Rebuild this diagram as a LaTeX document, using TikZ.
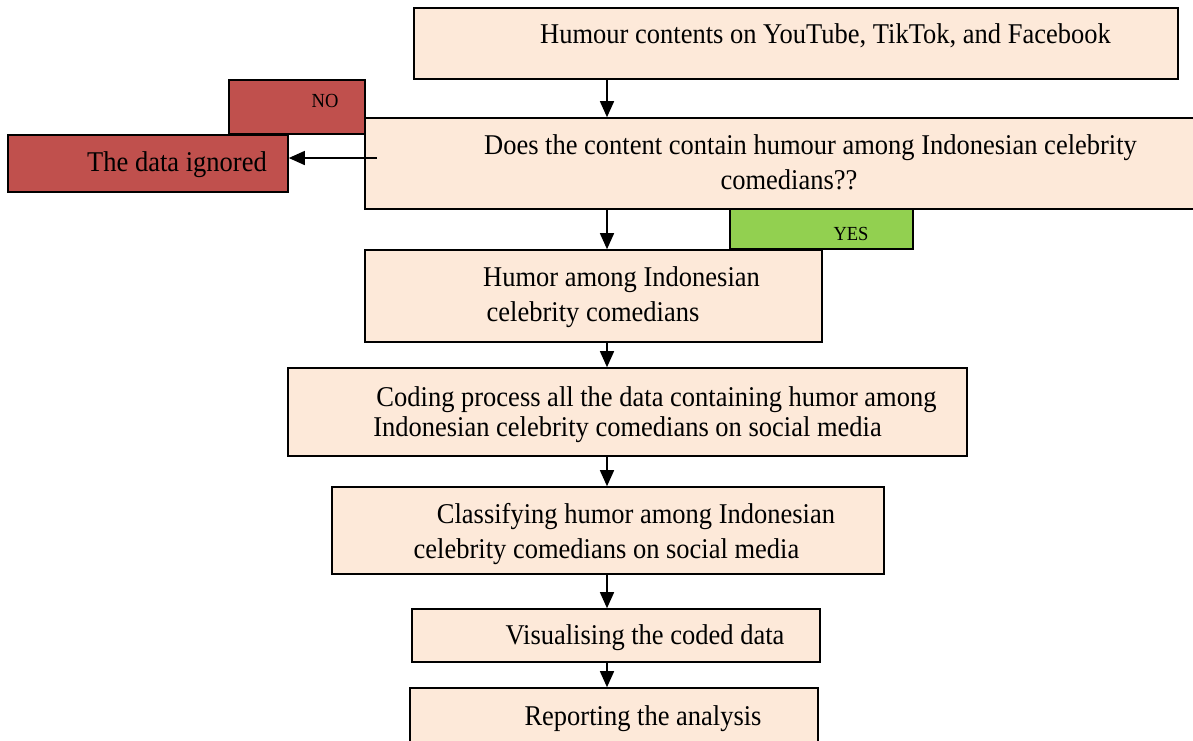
\documentclass[tikz,border=0pt]{standalone}
\usepackage{fontspec}
\setmainfont{Liberation Serif}
\usetikzlibrary{arrows.meta}
\definecolor{peach}{HTML}{FDE9D9}
\definecolor{redbox}{HTML}{C0504D}
\definecolor{greenbox}{HTML}{92D050}
\newcommand{\tallt}[1]{\scalebox{1}[1.08]{#1}}
\begin{document}
\begin{tikzpicture}[x=1pt,y=-1pt,
  box/.style={draw=black,line width=1.6pt,rectangle,inner sep=0pt},
  peachbox/.style={box,fill=peach},
  redb/.style={box,fill=redbox},
  greenb/.style={box,fill=greenbox},
  txt/.style={anchor=base,inner sep=0pt,font=\fontsize{26.5}{32}\selectfont},
  small/.style={anchor=base,inner sep=0pt,font=\fontsize{18.5}{22}\selectfont},
  arr/.style={line width=1.5pt,-{Triangle[length=16pt,width=14pt]}}]
\useasboundingbox (0,0) rectangle (1193,740);
% boxes
\node[peachbox,minimum width=764pt,minimum height=71pt] (top) at (796,43.5) {};
\node[peachbox,minimum width=831pt,minimum height=91pt] (q) at (780.5,163.5) {};
\node[redb,minimum width=136pt,minimum height=54pt] (no) at (297,107) {};
\node[redb,minimum width=280pt,minimum height=57pt] (ign) at (148,163.5) {};
\node[greenb,minimum width=183pt,minimum height=40pt] (yes) at (821.5,229) {};
\node[peachbox,minimum width=457pt,minimum height=92pt] (humor) at (593.5,296) {};
\node[peachbox,minimum width=679pt,minimum height=88pt] (coding) at (627.5,412) {};
\node[peachbox,minimum width=552pt,minimum height=87pt] (class) at (608,530.5) {};
\node[peachbox,minimum width=408pt,minimum height=53pt] (vis) at (616,635.5) {};
\node[peachbox,minimum width=408pt,minimum height=64pt] (rep) at (614,720) {};
% texts
\node[txt] (topt) at (825.5,43) {\tallt{Humour contents on YouTube, TikTok, and Facebook}};
\node[txt] (qt1) at (810.5,154) {\tallt{Does the content contain humour among Indonesian celebrity}};
\node[txt] (qt2) at (789,189) {\tallt{comedians??}};
\node[small] (not) at (325,107) {\tallt{NO}};
\node[txt] (ignt) at (177,171) {\tallt{The data ignored}};
\node[small] (yest) at (851,240) {\tallt{YES}};
\node[txt] (ht1) at (621.5,286) {\tallt{Humor among Indonesian}};
\node[txt] (ht2) at (593,321) {\tallt{celebrity comedians}};
\node[txt] (ct1) at (656.5,406) {\tallt{Coding process all the data containing humor among}};
\node[txt] (ct2) at (627.5,436) {\tallt{Indonesian celebrity comedians on social media}};
\node[txt] (kt1) at (636,523) {\tallt{Classifying humor among Indonesian}};
\node[txt] (kt2) at (606.5,558) {\tallt{celebrity comedians on social media}};
\node[txt] (vt) at (645,644) {\tallt{Visualising the coded data}};
\node[txt] (rt) at (643,725) {\tallt{Reporting the analysis}};
% connectors
\coordinate (ax) at (607,0);
\coordinate (nostart) at (377,158);
\draw[arr] (ax |- top.south) -- (ax |- q.north);
\draw[arr] (nostart) -- (nostart -| ign.east);
\draw[arr] (ax |- q.south) -- (ax |- humor.north);
\draw[arr] (ax |- humor.south) -- (ax |- coding.north);
\draw[arr] (ax |- coding.south) -- (ax |- class.north);
\draw[arr] (ax |- class.south) -- (ax |- vis.north);
\draw[arr] (ax |- vis.south) -- (ax |- rep.north);
\end{tikzpicture}
\end{document}
